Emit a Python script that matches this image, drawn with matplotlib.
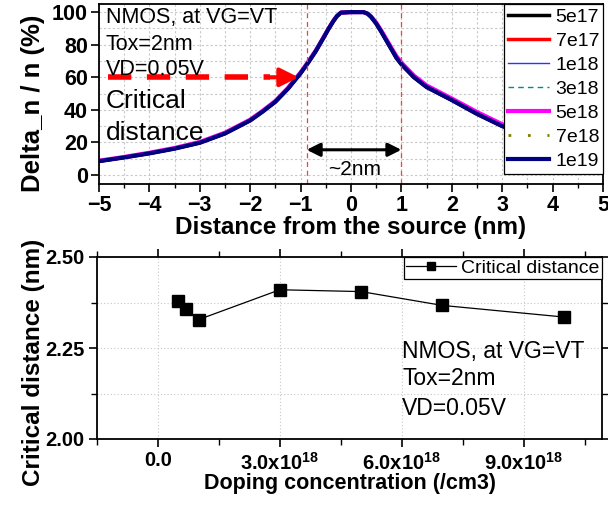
import numpy as np
import matplotlib.pyplot as plt

plt.rcParams['font.family'] = ['Liberation Sans', 'DejaVu Sans']
plt.rcParams['mathtext.fontset'] = 'custom'
plt.rcParams['mathtext.rm'] = 'Liberation Sans:bold'
plt.rcParams['mathtext.default'] = 'rm'

# ==== data: top panel ====
distance = [-5.0, -4.5, -4.0, -3.5, -3.0, -2.5, -2.0, -1.75, -1.5, -1.25, -1.0,
            -0.85, -0.7, -0.55, -0.45, -0.35, -0.28, -0.2, 0.0, 0.25, 0.33,
            0.4, 0.5, 0.6, 0.75, 0.9, 1.0, 1.25, 1.5, 1.75, 2.0, 2.5, 3.0,
            3.5, 4.0, 4.5, 5.0]
delta_n = [8.5, 10.8, 13.3, 16.2, 19.8, 25.5, 33.5, 39.0, 45.0, 53.0, 62.5,
           69.0, 76.0, 84.0, 89.5, 94.5, 97.5, 99.7, 100.0, 100.0, 99.0,
           97.0, 93.0, 88.0, 80.0, 72.0, 68.0, 60.0, 54.0, 50.0, 46.0, 37.5, 30.0,
           25.0, 21.0, 18.0, 15.5]
delta_n_5e18 = [8.8, 11.1, 13.7, 16.6, 20.3, 26.0, 34.0, 39.5, 45.5, 53.5, 63.0,
                69.5, 76.4, 84.3, 89.7, 94.7, 97.6, 99.7, 100.0, 100.0, 99.1,
                97.3, 93.5, 88.7, 80.8, 73.0, 69.0, 61.0, 55.0, 51.0, 47.0, 38.7, 31.2,
                26.2, 22.2, 19.2, 16.7]
doping_labels = ["5e17", "7e17", "1e18", "3e18", "5e18", "7e18", "1e19"]
series_values = [delta_n, delta_n, delta_n, delta_n, delta_n_5e18, delta_n, delta_n]

# ==== data: bottom panel ====
doping = [5e17, 7e17, 1e18, 3e18, 5e18, 7e18, 1e19]
critical_distance = [2.380, 2.356, 2.328, 2.410, 2.405, 2.367, 2.335]
doping_ticks = [0.0, 3e18, 6e18, 9e18]
doping_ticklabels = ["0.0", "3.0x10$^{18}$", "6.0x10$^{18}$", "9.0x10$^{18}$"]

styles = [
    dict(color="black", lw=2.5, ls="-"),
    dict(color="red", lw=2.5, ls="-"),
    dict(color="#3030ff", lw=1.0, ls="-"),
    dict(color="#008b8b", lw=1.0, ls=(0, (4, 3))),
    dict(color="magenta", lw=3.0, ls="-"),
    dict(color="#808000", lw=2.0, ls=(0, (1, 6))),
    dict(color="#000080", lw=3.0, ls="-"),
]

fig = plt.figure(figsize=(6.08, 5.05), dpi=100)

# ==== top panel ====
ax1 = fig.add_axes([99 / 608, 1 - 184 / 505, 504 / 608, 180 / 505])
for lab, vals, st in zip(doping_labels, series_values, styles):
    ax1.plot(distance, vals, label=lab, **st)

ax1.set_xlim(-5, 5)
ax1.set_ylim(-5.5, 105)
ax1.set_xticks(np.arange(-5, 6, 1))
ax1.set_xticks(np.arange(-5, 5.01, 0.5), minor=True)
ax1.set_yticks(np.arange(0, 101, 20))
ax1.set_yticks(np.arange(0, 101, 10), minor=True)
ax1.tick_params(axis="y", which="minor", length=0)
ax1.tick_params(axis="x", which="minor", length=3, width=1.0)
ax1.grid(True, which="both", ls=(0, (2, 2)), color="#c8c8c8", lw=0.8)
ax1.set_axisbelow(True)

ax1.axvline(-0.87, color="#f04040", ls=(0, (4, 3)), lw=0.9)
ax1.axvline(1.0, color="#f04040", ls=(0, (4, 3)), lw=0.9)

# critical distance arrow
ax1.plot([-4.83, -1.6], [60, 60], color="red", lw=4, ls=(0, (4.2, 2.8)))
ax1.annotate("", xy=(-1.04, 60), xytext=(-1.6, 60),
             arrowprops=dict(arrowstyle="-|>", color="red", lw=3, mutation_scale=28,
                             shrinkA=0, shrinkB=0))
ax1.annotate("", xy=(-0.88, 15.5), xytext=(1.0, 15.5),
             arrowprops=dict(arrowstyle="<|-|>", color="black", lw=2.2, mutation_scale=20,
                             shrinkA=0, shrinkB=0))
ax1.text(0.08, 3.5, "~2nm", ha="center", va="center", fontsize=15)

txt_kw = dict(transform=ax1.transAxes, ha="left", va="baseline")
ax1.text(0.013, 0.894, "NMOS, at VG=VT", fontsize=15.5, **txt_kw)
ax1.text(0.013, 0.744, "Tox=2nm", fontsize=15.5, **txt_kw)
ax1.text(0.013, 0.606, "VD=0.05V", fontsize=15.5, **txt_kw)
ax1.text(0.013, 0.422, "Critical", fontsize=19, **txt_kw)
ax1.text(0.013, 0.244, "distance", fontsize=19, **txt_kw)

ax1.set_xlabel("Distance from the source (nm)", fontsize=17.5, fontweight="bold", labelpad=0)
ax1.set_ylabel("Delta_n / n (%)", fontsize=18.5, fontweight="bold")
ax1.yaxis.set_label_coords(-0.107, 0.45)
for lab in ax1.get_xticklabels() + ax1.get_yticklabels():
    lab.set_fontweight("bold")
ax1.tick_params(which="major", labelsize=15.5, width=1.2, length=6, pad=2)
for sp in ax1.spines.values():
    sp.set_linewidth(1.3)

leg1 = ax1.legend(loc="upper right", fontsize=14, handlelength=2.1, handletextpad=0.35,
                  labelspacing=0.33, borderpad=0.2, borderaxespad=0.0,
                  fancybox=False, framealpha=1, edgecolor="black")
leg1.get_frame().set_linewidth(0.9)

# ==== bottom panel ====
ax2 = fig.add_axes([97 / 608, 1 - 439 / 505, 505 / 608, 182 / 505])
ax2.plot(doping, critical_distance, color="black", lw=0.9, marker="s", ms=8.5,
         label="Critical distance")
ax2.set_xlim(-0.98e18, 10.93e18)
ax2.set_ylim(2.0, 2.5)
ax2.set_xticks(doping_ticks)
ax2.set_xticklabels(doping_ticklabels)
ax2.set_xticks(np.arange(-1.5e18, 11e18, 1.5e18), minor=True)
ax2.set_yticks([2.0, 2.25, 2.5])
ax2.set_yticklabels(["2.00", "2.25", "2.50"])
ax2.set_yticks([2.125, 2.375], minor=True)
ax2.tick_params(which="both", direction="out", top=True, right=True)
ax2.tick_params(which="minor", length=4, width=1.0)
ax2.grid(True, which="major", axis="x", ls=(0, (1, 2)), color="#c8c8c8", lw=0.8)
ax2.grid(True, which="both", axis="y", ls=(0, (1, 2)), color="#c8c8c8", lw=0.8)
ax2.set_axisbelow(True)

ax2.text(0.604, 0.445, "NMOS, at VG=VT", transform=ax2.transAxes, fontsize=16.5, va="baseline")
ax2.text(0.604, 0.297, "Tox=2nm", transform=ax2.transAxes, fontsize=16.5, va="baseline")
ax2.text(0.604, 0.132, "VD=0.05V", transform=ax2.transAxes, fontsize=16.5, va="baseline")

ax2.set_xlabel("Doping concentration (/cm3)", fontsize=15.5, fontweight="bold", labelpad=0)
ax2.set_ylabel("Critical distance (nm)", fontsize=17.5, fontweight="bold")
ax2.yaxis.set_label_coords(-0.103, 0.42)
for lab in ax2.get_xticklabels() + ax2.get_yticklabels():
    lab.set_fontweight("bold")
ax2.tick_params(which="major", labelsize=14.5, width=1.2, length=6, pad=3)
for sp in ax2.spines.values():
    sp.set_linewidth(1.3)

leg2 = ax2.legend(loc="upper right", fontsize=14, handlelength=2.6, handletextpad=0.25,
                  borderpad=0.12, borderaxespad=0.0, fancybox=False, framealpha=1,
                  edgecolor="black", markerscale=0.7)
leg2.get_frame().set_linewidth(0.9)

plt.savefig("out.png", dpi=100)
